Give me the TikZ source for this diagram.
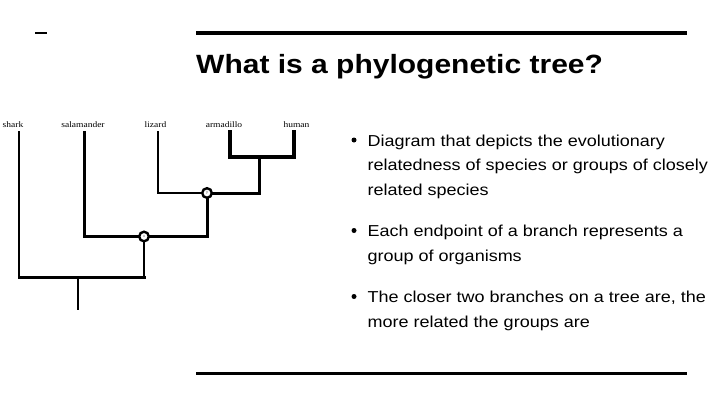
\documentclass[tikz,border=0pt]{standalone}
\usepackage{fontspec}
\setmainfont{Liberation Sans}
\newfontfamily\labelfont{Liberation Serif}
\newcommand{\squash}[1]{\scalebox{1}[0.88]{#1}}
\begin{document}
\begin{tikzpicture}[x=1pt,y=-1pt,
  txt/.style={inner sep=0pt, anchor=base west, font=\fontsize{18}{20}\selectfont},
  ttl/.style={inner sep=0pt, anchor=base west, font=\bfseries\fontsize{30}{32}\selectfont},
  lbl/.style={inner sep=0pt, anchor=base, font=\labelfont\fontsize{9.5}{10}\selectfont},
  rule/.style={line width=4pt},
  br/.style={line width=3pt, line cap=rect},
  thinbr/.style={line width=2pt, line cap=rect},
  midbr/.style={line width=2.6pt, line cap=rect},
  nodecirc/.style={circle, draw, line width=2.4pt, fill=white, minimum size=9.6pt, inner sep=0pt, font=\fontsize{4}{4}\selectfont, text=black!60},
  bul/.style={circle, fill=black, inner sep=0pt, minimum size=5pt}]
\useasboundingbox (0,0) rectangle (720,405);
\fill[white] (0,0) rectangle (720,405);

% header rules
\coordinate (dashL) at (35,33);
\coordinate (dashR) at (47,33);
\draw[line width=2.5pt] (dashL) -- (dashR);
\coordinate (topL) at (196,33);
\coordinate (topR) at (687,33);
\draw[rule] (topL) -- (topR);
\coordinate (botL) at (196,373);
\coordinate (botR) at (687,373);
\draw[line width=3pt] (botL) -- (botR);

% title
\node[ttl] (title) at (196,73) {\squash{What is a phylogenetic tree?}};

% bullets
\node[bul] (b1) at (354,140) {};
\node[bul] (b2) at (354,230.5) {};
\node[bul] (b3) at (354,296.5) {};
\node[txt] (t1) at (367.5,146) {\squash{Diagram that depicts the evolutionary}};
\node[txt] (t2) at (367.5,170.5) {\squash{relatedness of species or groups of closely}};
\node[txt] (t3) at (367.5,195) {\squash{related species}};
\node[txt] (t4) at (367.5,236.5) {\squash{Each endpoint of a branch represents a}};
\node[txt] (t5) at (367.5,261) {\squash{group of organisms}};
\node[txt] (t6) at (367.5,302.5) {\squash{The closer two branches on a tree are, the}};
\node[txt] (t7) at (367.5,327) {\squash{more related the groups are}};

% tree labels
\node[lbl] (shark) at (13,127) {\squash{shark}};
\node[lbl] (sala) at (83,127) {\squash{salamander}};
\node[lbl] (liz) at (155.5,127) {\squash{lizard}};
\node[lbl] (arma) at (224,127) {\squash{armadillo}};
\node[lbl] (hum) at (296.5,127) {\squash{human}};

% tree coordinates
\coordinate (sharkTop) at (19,132);
\coordinate (salaTop) at (84,132);
\coordinate (lizTop) at (158,132);
\coordinate (armaTop) at (230,132);
\coordinate (humTop) at (294,132);
\coordinate (bj) at (259,157);
\coordinate (rj) at (78,277);
\coordinate (rootBot) at (78,309);
\coordinate (sharkBot) at (19,277);
\coordinate (xBot) at (144,277);

% internal nodes
\node[nodecirc] (xn) at (144,236.5) {x};
\node[nodecirc] (yn) at (207,193) {y};

% branches
\draw[thinbr] (sharkTop) -- (sharkBot);
\draw[br] (sharkBot) -- (xBot);
\draw[midbr] (xBot) -- (xn);
\draw[midbr] (rj) -- (rootBot);
\draw[br] (salaTop) |- (xn);
\draw[br, line join=miter] (xn) -| (yn);
\draw[midbr] (lizTop) |- (yn);
\draw[br, line join=miter] (yn) -| (bj);
\draw[line width=3.2pt, line cap=rect, line join=miter] (armaTop) |- (bj) -| (humTop);
\end{tikzpicture}
\end{document}
